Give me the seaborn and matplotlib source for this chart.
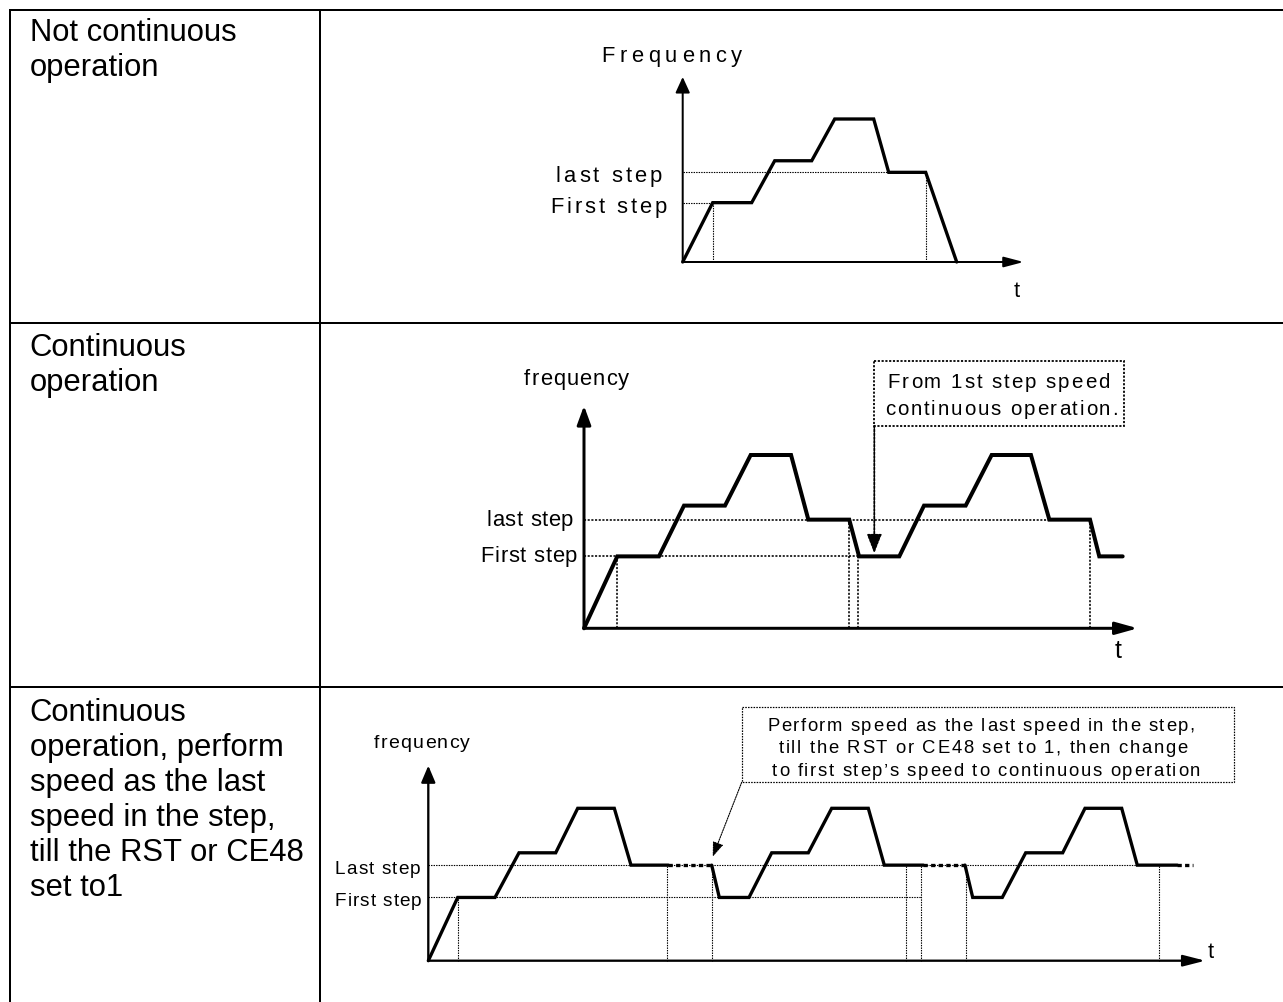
import numpy as np
import pandas as pd
import matplotlib
matplotlib.use("Agg")
import matplotlib.pyplot as plt
import seaborn as sns
from matplotlib.font_manager import FontProperties
from matplotlib.patches import Rectangle
from matplotlib.patches import ArrowStyle

W, H, DPI = 1283, 1003, 100

sns.set_theme(style="white")
plt.rcParams["font.family"] = ["Liberation Sans", "DejaVu Sans"]

# ---------------------------------------------------------------- data
# frequency levels (percent of the highest step)
FIRST, LAST, MID, PEAK = 41.5, 62.7, 70.8, 100.0

row_titles = [
    ["Not continuous", "operation"],
    ["Continuous", "operation"],
    ["Continuous", "operation, perform", "speed as the last",
     "speed in the step,", "till the RST or CE48", "set to1"],
]

# 1) not continuous: one pass through the steps, then stop
t1 = [0, 3.0, 6.9, 9.2, 12.9, 15.2, 19.1, 20.6, 24.3, 27.4]
f1 = [0, FIRST, FIRST, MID, MID, PEAK, PEAK, LAST, LAST, 0]

# 2) continuous: after the last step, restart from the first step
t2 = [0, 3.06, 6.89, 9.19, 12.96, 15.32, 19.03, 20.62, 24.38, 25.28,
      28.98, 31.25, 35.08, 37.47, 41.08, 42.77, 46.51, 47.36, 49.51]
f2 = [0, FIRST, FIRST, MID, MID, PEAK, PEAK, LAST, LAST, FIRST,
      FIRST, MID, MID, PEAK, PEAK, LAST, LAST, FIRST, FIRST]

# 3) continuous with hold at the last speed until RST / CE48
t3_run_a = [0, 2.94, 6.67, 9.07, 12.74, 14.94, 18.6, 20.27, 24.0]
f3_run_a = [0, FIRST, FIRST, MID, MID, PEAK, PEAK, LAST, LAST]
t3_run_b = [28.34, 29.1, 32.07, 34.34, 38.0, 40.34, 44.0, 45.6, 49.5]
f3_run_b = [LAST, FIRST, FIRST, MID, MID, PEAK, PEAK, LAST, LAST]
t3_run_c = [53.67, 54.44, 57.4, 59.74, 63.44, 65.67, 69.34, 70.9, 74.9]
f3_run_c = [LAST, FIRST, FIRST, MID, MID, PEAK, PEAK, LAST, LAST]
t3_hold_a = [24.0, 28.34]
t3_hold_b = [49.5, 53.67]
t3_hold_c = [74.9, 76.5]

# dotted reference lines: (level, end time) and (time, level)
h_guides1 = [(FIRST, 3.0), (LAST, 20.6)]
v_guides1 = [(3.0, FIRST), (24.3, LAST)]
h_guides2 = [(FIRST, 25.2), (LAST, 42.77)]
v_guides2 = [(3.06, FIRST), (24.38, LAST), (25.2, FIRST), (46.51, LAST)]
h_guides3 = [(FIRST, 49.24), (LAST, 70.9)]
v_guides3 = [(2.94, FIRST), (23.84, LAST), (28.34, LAST), (47.77, LAST),
             (49.24, LAST), (53.74, LAST), (73.07, LAST)]

note2 = ["From 1st step speed", "continuous operation."]
note3 = ["Perform speed as the last speed in the step,",
         "till the RST or CE48 set to 1, then change",
         "to first step\u2019s speed to continuous operation"]

# ---------------------------------------------------------------- figure
fig = plt.figure(figsize=(W / DPI, H / DPI), dpi=DPI, facecolor="white")
ov = fig.add_axes([0, 0, 1, 1])
ov.set_xlim(0, W)
ov.set_ylim(H, 0)
ov.axis("off")
renderer = fig.canvas.get_renderer()

PT = 72.0 / DPI  # points per pixel


def _width(s, fp):
    return renderer.get_text_width_height_descent(s, fp, ismath=False)[0]


def spaced(s, x, y, size_px, width=None, ha="left", color="black"):
    """Draw text with letter tracking so that it spans `width` pixels."""
    fp = FontProperties(family="Liberation Sans", size=size_px * PT)
    base = _width("HH", fp)
    advs = [_width("H" + c + "H", fp) - base for c in s]
    natural = sum(advs)
    track = 0.0
    if width is not None and len(s) > 1:
        track = (width - natural) / (len(s) - 1)
    total = natural + track * (len(s) - 1)
    pos = x - {"left": 0.0, "center": total / 2.0, "right": total}[ha]
    for c, a in zip(s, advs):
        if c != " ":
            ov.text(pos, y, c, fontproperties=fp, ha="left", va="baseline",
                    color=color)
        pos += a + track


# table frame
LW_TABLE = 2.0 * PT
for yy in (11, 324, 688):
    ov.plot([9, W], [yy, yy], color="black", lw=LW_TABLE, solid_capstyle="butt")
for xx in (9.5, 320):
    ov.plot([xx, xx], [10, H], color="black", lw=LW_TABLE, solid_capstyle="butt")

# left column
title_fp = FontProperties(family="Liberation Sans", size=31 * PT)
title_base = [40.7, 356, 721]
for lines, y0 in zip(row_titles, title_base):
    for i, line in enumerate(lines):
        ov.text(29.5, y0 + i * 35.1, line, fontproperties=title_fp,
                ha="left", va="baseline", color="black")


def panel(ox, oy, sx, sy, xlim, ylim):
    left = (ox + xlim[0] * sx) / W
    bottom = 1 - (oy - ylim[0] * sy) / H
    width = (xlim[1] - xlim[0]) * sx / W
    height = (ylim[1] - ylim[0]) * sy / H
    ax = fig.add_axes([left, bottom, width, height])
    ax.set_xlim(*xlim)
    ax.set_ylim(*ylim)
    ax.axis("off")
    return ax


def axes_arrows(ax, xtip, ytip, lw_px, yhead, xhead):
    for end, (L, Wd) in (((0, ytip), yhead), ((xtip, 0), xhead)):
        hd = np.hypot(L, Wd) * PT
        style = ArrowStyle("-|>", head_length=hd, head_width=hd * Wd / L)
        ax.annotate("", xy=end, xytext=(0, 0),
                    arrowprops=dict(arrowstyle=style, color="black",
                                    lw=lw_px * PT, shrinkA=0, shrinkB=0,
                                    mutation_scale=1),
                    annotation_clip=False)


def guides(ax, hg, vg, lw_px):
    dots = (0, (1.3, 1.0))
    for lvl, tend in hg:
        ax.plot([0, tend], [lvl, lvl], color="black", lw=lw_px * PT,
                linestyle=dots, clip_on=False)
    for tt, lvl in vg:
        ax.plot([tt, tt], [0, lvl], color="black", lw=lw_px * PT,
                linestyle=dots, clip_on=False)


# ---------------- row 1
ax1 = panel(682.7, 263, 10.0, 1.43, (-3, 36), (-10, 135))
guides(ax1, h_guides1, v_guides1, 1.1)
sns.lineplot(x=t1, y=f1, sort=False, estimator=None, color="black",
             lw=3.3 * PT, ax=ax1, solid_joinstyle="miter", clip_on=False)
axes_arrows(ax1, 34.1, 129.4, 2.0, (12, 5.5), (16, 4.2))
spaced("Frequency", 671.7, 61.7, 22, 140, "center")
spaced("last step", 661.7, 181.5, 22, 106, "right")
spaced("First step", 666.7, 213, 22, 116, "right")
spaced("t", 1017, 296.5, 22, None, "center")

# ---------------- row 2
ax2 = panel(584, 629.3, 10.88, 1.733, (-3, 53), (-10, 135))
guides(ax2, h_guides2, v_guides2, 1.6)
sns.lineplot(x=t2, y=f2, sort=False, estimator=None, color="black",
             lw=4.0 * PT, ax=ax2, solid_joinstyle="miter", clip_on=False)
axes_arrows(ax2, 50.9, 128.4, 3.0, (15, 5.5), (18, 5.0))
spaced("frequency", 576.7, 385, 22, 105, "center")
spaced("last step", 573.3, 525.7, 22, 87, "right")
spaced("First step", 577.3, 562.3, 22, 97, "right")
spaced("t", 1118.5, 658, 25, None, "center")

ov.add_patch(Rectangle((873.8, 362), 250, 64.7, fill=False, color="black",
                       lw=1.8 * PT, linestyle=(0, (1.2, 0.9))))
spaced(note2[0], 998.5, 388.3, 20.5, 222, "center")
spaced(note2[1], 1001.5, 415, 20.5, 233, "center")
ov.annotate("", xy=(26.68, FIRST + 1.8), xycoords=ax2.transData,
            xytext=(874.3, 426.7), textcoords=ov.transData,
            arrowprops=dict(arrowstyle=ArrowStyle("-|>", head_length=11.5,
                                                  head_width=4.5),
                            color="black", lw=1.8 * PT,
                            linestyle=(0, (1.2, 0.9)),
                            shrinkA=0, shrinkB=0, mutation_scale=1))

# ---------------- row 3
ax3 = panel(428.3, 961.7, 10.0, 1.524, (-3, 80), (-10, 135))
guides(ax3, h_guides3, v_guides3, 1.1)
segments = [("run", t3_run_a, f3_run_a), ("hold", t3_hold_a, [LAST, LAST]),
            ("run", t3_run_b, f3_run_b), ("hold", t3_hold_b, [LAST, LAST]),
            ("run", t3_run_c, f3_run_c), ("hold", t3_hold_c, [LAST, LAST])]
df3 = pd.concat(
    [pd.DataFrame({"t": tt, "f": ff, "seg": i, "kind": kind})
     for i, (kind, tt, ff) in enumerate(segments)],
    ignore_index=True)
sns.lineplot(data=df3, x="t", y="f", units="seg", style="kind",
             dashes={"run": "", "hold": (1.3, 1.0)}, estimator=None,
             sort=False, color="black", lw=3.3 * PT, legend=False, ax=ax3,
             solid_joinstyle="miter", clip_on=False)
axes_arrows(ax3, 77.7, 128, 2.3, (13, 5.5), (18, 4.6))
spaced("frequency", 421.7, 748.5, 19.5, 96, "center")
spaced("Last step", 420.7, 874.3, 19, 86, "right")
spaced("First step", 421.7, 906, 19, 87, "right")
spaced("t", 1211, 958, 22, None, "center")

ov.add_patch(Rectangle((741.7, 708.3), 492.3, 75, fill=False, color="black",
                       lw=1.2 * PT, linestyle=(0, (1.3, 1.0))))
spaced(note3[0], 981, 730.7, 18.5, 427, "center")
spaced(note3[1], 983, 753.3, 18.5, 409, "center")
spaced(note3[2], 986, 776, 18.5, 428, "center")
ov.annotate("", xy=(28.44, LAST + 5.5), xycoords=ax3.transData,
            xytext=(741.7, 783.3), textcoords=ov.transData,
            arrowprops=dict(arrowstyle=ArrowStyle("-|>", head_length=9.0,
                                                  head_width=3.3),
                            color="black", lw=1.1 * PT,
                            linestyle=(0, (1.3, 1.0)),
                            shrinkA=0, shrinkB=0, mutation_scale=1))

fig.savefig("out.png", dpi=DPI, facecolor="white")
